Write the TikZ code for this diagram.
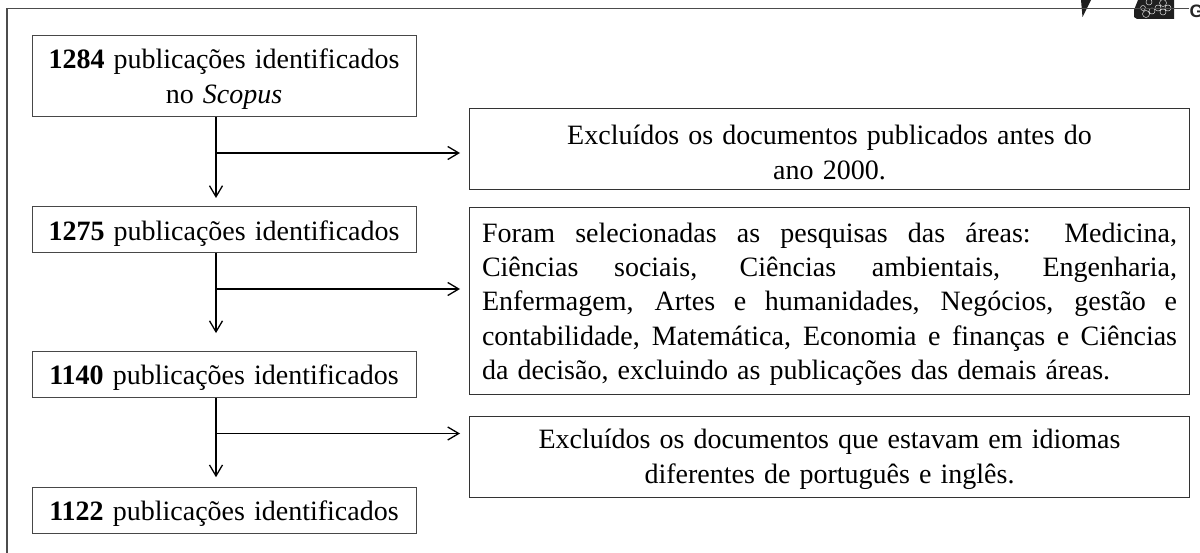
\documentclass[tikz,border=0pt]{standalone}
\usepackage{fontspec}
\setmainfont[WordSpace=1.3]{Liberation Serif}
\newfontfamily\gfont{Liberation Sans}
\newcommand{\lowerline}{\rule{0pt}{26pt}}
\usetikzlibrary{arrows.meta}
\tikzset{
  every node/.style={inner sep=0pt,outer sep=0pt},
  txt/.style={font=\fontsize{28}{35}\selectfont,align=center,text=black},
  leftbox/.style={txt,draw=black!72,line width=1pt,minimum width=384pt},
  rightbox/.style={txt,draw=black!80,line width=1pt,minimum width=720pt},
  conn/.style={draw=black,line width=1.5pt},
  flow/.style={conn,-{Straight Barb[length=11pt,width=13pt,line width=1.3pt]}},
  frameline/.style={draw=black!70,line width=1.2pt},
  petal/.style={draw=white!85!black,line width=.5pt}
}
\begin{document}
\begin{tikzpicture}[x=1pt,y=-1pt]
\useasboundingbox (0,0) rectangle (1200,553);
% outer frame
\coordinate (fa) at (7,553);
\coordinate (fb) at (7,8.5);
\coordinate (fc) at (1189,8.5);
% header fragments
\fill[black!88] (1081,0) -- (1091,0) -- (1082.5,17) -- cycle;
\fill[black!88] (1138,0) -- (1174,0) -- (1174,19) -- (1137,19) -- (1134,17) -- (1134,10) -- cycle;
\draw[petal] (1146,14) circle (3.5pt) (1152,11) circle (3pt) (1143,8) circle (2.5pt) (1149,2) circle (3pt);
\draw[petal] (1163,3) circle (3.5pt) (1168,8) circle (3pt) (1158,8) circle (3pt) (1163,12) circle (3pt);
\draw[frameline] (fa) -- (fb) -- (fc);
\node[anchor=west,font=\gfont\bfseries\fontsize{18}{18}\selectfont,text=black!85] (g) at (1189.5,11) {G};
% left column
\node[leftbox,minimum height=81.5pt] (b1) at (224,76.2) {\lowerline\textbf{1284} publicações identificados\\no \textit{Scopus}};
\node[leftbox,minimum height=46pt] (b2) at (224,230) {\lowerline\textbf{1275} publicações identificados};
\node[leftbox,minimum height=46pt] (b3) at (224,374.6) {\lowerline\textbf{1140} publicações identificados};
\node[leftbox,minimum height=46pt] (b4) at (224,510.7) {\lowerline\textbf{1122} publicações identificados};
% right column
\node[rightbox,minimum height=81pt] (r1) at (829.5,148.8) {\lowerline Excluídos os documentos publicados antes do\\ano 2000.};
\node[rightbox,minimum height=186.5pt,text width=695pt,align=justify,font=\fontsize{28}{34.2}\selectfont] (r2) at (829.5,300.8) {\lowerline Foram selecionadas as pesquisas das áreas: Medicina,\linebreak Ciências sociais, Ciências ambientais, Engenharia,\linebreak Enfermagem, Artes e humanidades, Negócios, gestão e\linebreak contabilidade, Matemática, Economia e finanças e Ciências\linebreak da decisão, excluindo as publicações das demais áreas.};
\node[rightbox,minimum height=81pt] (r3) at (829.5,456.5) {\lowerline Excluídos os documentos que estavam em idiomas\\diferentes de português e inglês.};
% junctions
\coordinate (j1) at ([xshift=-8pt]b1.south |- 0,153);
\coordinate (j2) at ([xshift=-8pt]b2.south |- 0,289);
\coordinate (j3) at ([xshift=-8pt]b3.south |- 0,433.5);
% connectors
\draw[flow,shorten >=9pt] ([xshift=-8pt]b1.south) -- ([xshift=-8pt]b2.north);
\draw[flow,shorten >=9.5pt] (j1) -- (r1.west |- j1);
\draw[flow,shorten >=18.5pt] ([xshift=-8pt]b2.south) -- ([xshift=-8pt]b3.north);
\draw[flow,shorten >=9.5pt] (j2) -- (r2.west |- j2);
\draw[flow,shorten >=10.5pt] ([xshift=-8pt]b3.south) -- ([xshift=-8pt]b4.north);
\draw[flow,shorten >=9.5pt] (j3) -- (r3.west |- j3);
\end{tikzpicture}
\end{document}
